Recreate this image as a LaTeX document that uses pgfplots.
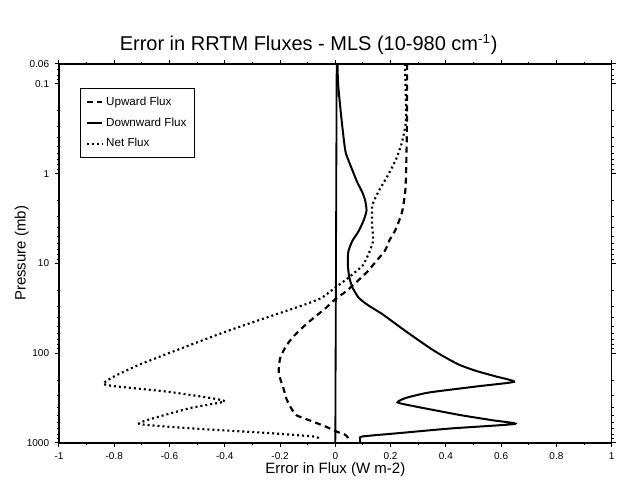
\documentclass[border=0pt]{standalone}
\usepackage{fontspec}
\setmainfont{Liberation Sans}
\usepackage{pgfplots}
\pgfplotsset{compat=1.18}
\usetikzlibrary{calc}

\begin{document}
\begin{tikzpicture}
    % 1 px of the reference = 0.6pt
    \begin{axis}[
        name=ax,
        scale only axis,
        width=331.8pt, height=227.4pt,
        xmin=-1, xmax=1,
        ymode=log, y dir=reverse,
        ymin=0.06, ymax=1000,
        xtick={-1,-0.8,-0.6,-0.4,-0.2,0,0.2,0.4,0.6,0.8,1},
        xticklabels={-1,-0.8,-0.6,-0.4,-0.2,0,0.2,0.4,0.6,0.8,1},
        minor x tick num=1,
        ytick={0.06,0.1,1,10,100,1000},
        yticklabels={0.06,0.1,1,10,100,1000},
        minor ytick={0.07,0.08,0.09,0.2,0.3,0.4,0.5,0.6,0.7,0.8,0.9,2,3,4,5,6,7,8,9,20,30,40,50,60,70,80,90,200,300,400,500,600,700,800,900},
        tick align=outside,
        major tick length=2.4pt,
        minor tick length=1.4pt,
        axis line style={line width=0.9pt},
        tick style={black, line width=0.6pt},
        tick label style={font=\fontsize{6}{7}\selectfont},
        /pgf/number format/assume math mode=true,
        title={Error in RRTM Fluxes - MLS (10-980 cm\textsuperscript{-1})},
        title style={font=\fontsize{12}{14}\selectfont, yshift=-4pt, xshift=-16pt},
        xlabel={Error in Flux (W m-2)},
        ylabel={Pressure (mb)},
        label style={font=\fontsize{9}{10}\selectfont},
        xlabel style={yshift=5pt},
        ylabel style={yshift=-8pt},
        legend style={at={(0.038,0.937)}, anchor=north west,
            font=\fontsize{7}{8}\selectfont, draw=black, line width=0.6pt,
            row sep=2pt, inner xsep=3pt, inner ysep=3pt},
        legend cell align=left,
        legend image code/.code={\draw[#1] (0cm,0cm) -- (0.32cm,0cm);},
    ]
        % zero reference line
        \addplot[black, line width=1.1pt, forget plot] coordinates {(0.005,0.06) (0,1000)};

        \addplot[black, line width=1.3pt, dash pattern=on 3.6pt off 2.6pt, smooth, tension=0.35] coordinates {
            (0.26,0.06) (0.259,0.32) (0.256,1) (0.253,1.58) (0.243,2.57) (0.228,3.55)
            (0.215,4.4) (0.195,5.6) (0.18,7.2) (0.15,9.3) (0.117,12.3) (0.08,15.8)
            (0.04,20.4) (0.0,25.1) (-0.035,31.6) (-0.075,39.8) (-0.106,47.9) (-0.14,60)
            (-0.166,74) (-0.185,91) (-0.2,115) (-0.205,158) (-0.198,200) (-0.188,245)
            (-0.178,316) (-0.166,380) (-0.142,490) (-0.085,575) (-0.035,660) (0.0,741)
            (0.035,813) (0.045,871) (0.05,950)
        };
        \addlegendentry{Upward Flux}

        \addplot[black, line width=1.2pt, smooth, tension=0.35] coordinates {
            (0.008,0.06) (0.01,0.1) (0.02,0.21) (0.03,0.4) (0.038,0.59) (0.06,0.89)
            (0.08,1.26) (0.098,1.62) (0.108,2.0) (0.113,2.57) (0.103,3.3) (0.084,4.4)
            (0.062,5.6) (0.048,7.2) (0.045,8.9) (0.046,11.2) (0.051,14.5) (0.062,18.6)
            (0.085,24.3) (0.12,29.5) (0.171,37) (0.256,57.5) (0.34,87) (0.387,107)
            (0.448,135) (0.509,158) (0.58,182) (0.647,209) (0.52,234) (0.34,275)
            (0.256,316) (0.225,355) (0.28,389) (0.45,490) (0.57,562) (0.65,617)
            (0.42,692) (0.24,776) (0.098,851) (0.09,912) (0.09,1000)
        };
        \addlegendentry{Downward Flux}

        \addplot[black, line width=1.3pt, dash pattern=on 1.2pt off 1.8pt, smooth, tension=0.3] coordinates {
            (0.252,0.06) (0.256,0.25) (0.241,0.45) (0.22,0.69) (0.19,1.05) (0.16,1.51)
            (0.134,2.24) (0.133,3.7) (0.137,5.6) (0.12,7.9) (0.1,10.5) (0.075,12.3)
            (0.04,15.1) (0.0,18.6) (-0.05,24.3) (-0.11,28.8) (-0.214,37) (-0.395,57.5)
            (-0.55,87) (-0.71,135) (-0.8,182) (-0.84,219) (-0.8,234) (-0.61,269)
            (-0.455,316) (-0.4,347) (-0.52,407) (-0.64,513) (-0.71,617) (-0.52,692)
            (-0.25,776) (-0.08,851) (-0.06,891)
        };
        \addlegendentry{Net Flux}
    \end{axis}
    % canvas of the reference: 620 x 478 px
    \path ($(ax.south west)+(-35.4pt,-21pt)$) rectangle ($(ax.north east)+(4.8pt,38.4pt)$);
\end{tikzpicture}
\end{document}
